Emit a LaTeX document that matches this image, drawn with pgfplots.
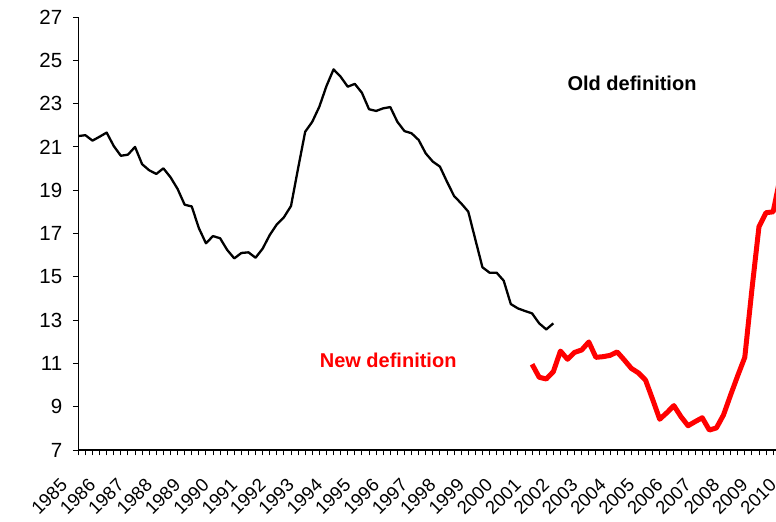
\documentclass[border=0pt]{standalone}
\usepackage{fontspec}
\setmainfont{Liberation Sans}
\usepackage{pgfplots}
\pgfplotsset{compat=1.18}
\begin{document}
\begin{tikzpicture}[x=1bp,y=1bp]
\path[use as bounding box] (0,0) rectangle (776,522);
\begin{axis}[
  at={(78.3bp,72bp)}, anchor=south west,
  scale only axis, width=716.1bp, height=433bp,
  xmin=0, xmax=101, ymin=7, ymax=27,
  axis lines=left, axis line style={-, line width=1.2bp},
  tick align=outside,
  ytick={7,9,...,27},
  xtick={0,4,...,100},
  minor x tick num=3,
  major tick length=5.5bp, minor tick length=5.5bp,
  every tick/.style={black, line width=0.9bp},
  xticklabels={1985,1986,1987,1988,1989,1990,1991,1992,1993,1994,1995,1996,1997,1998,1999,2000,2001,2002,2003,2004,2005,2006,2007,2008,2009,2010},
  /pgf/number format/assume math mode=true,
  y tick label style={font=\fontsize{20.5bp}{24bp}\selectfont, xshift=-7bp},
  x tick label style={font=\fontsize{18.5bp}{22bp}\selectfont, xshift=-12bp, yshift=-24bp, rotate=45, anchor=east},
  clip=true,
]
\addplot[black, line width=2.3bp, line join=round] table {
0 21.50
1 21.54
2 21.29
3 21.47
4 21.66
5 21.04
6 20.59
7 20.64
8 21.00
9 20.20
10 19.92
11 19.75
12 20.01
13 19.60
14 19.06
15 18.33
16 18.25
17 17.25
18 16.55
19 16.88
20 16.78
21 16.24
22 15.85
23 16.10
24 16.13
25 15.88
26 16.30
27 16.93
28 17.42
29 17.75
30 18.27
31 20.01
32 21.70
33 22.16
34 22.86
35 23.81
36 24.58
37 24.24
38 23.78
39 23.91
40 23.50
41 22.74
42 22.66
43 22.78
44 22.84
45 22.16
46 21.73
47 21.63
48 21.32
49 20.70
50 20.32
51 20.09
52 19.39
53 18.73
54 18.39
55 18.01
56 16.72
57 15.44
58 15.19
59 15.19
60 14.82
61 13.74
62 13.54
63 13.42
64 13.31
65 12.85
66 12.57
67 12.85
};
\addplot[red, line width=5bp, line join=round] table {
64 10.96
65 10.36
66 10.28
67 10.62
68 11.57
69 11.19
70 11.51
71 11.62
72 11.99
73 11.28
74 11.31
75 11.37
76 11.53
77 11.16
78 10.77
79 10.56
80 10.23
81 9.34
82 8.42
83 8.72
84 9.05
85 8.54
86 8.12
87 8.31
88 8.49
89 7.92
90 8.02
91 8.62
92 9.54
93 10.43
94 11.28
95 14.40
96 17.31
97 17.96
98 18.00
99 19.60
};
\node[font=\fontsize{20bp}{24bp}\selectfont\bfseries, black] at (axis cs:78.1,23.95) {Old definition};
\node[font=\fontsize{20bp}{24bp}\selectfont\bfseries, red] at (axis cs:43.7,11.16) {New definition};
\end{axis}
\end{tikzpicture}
\end{document}
